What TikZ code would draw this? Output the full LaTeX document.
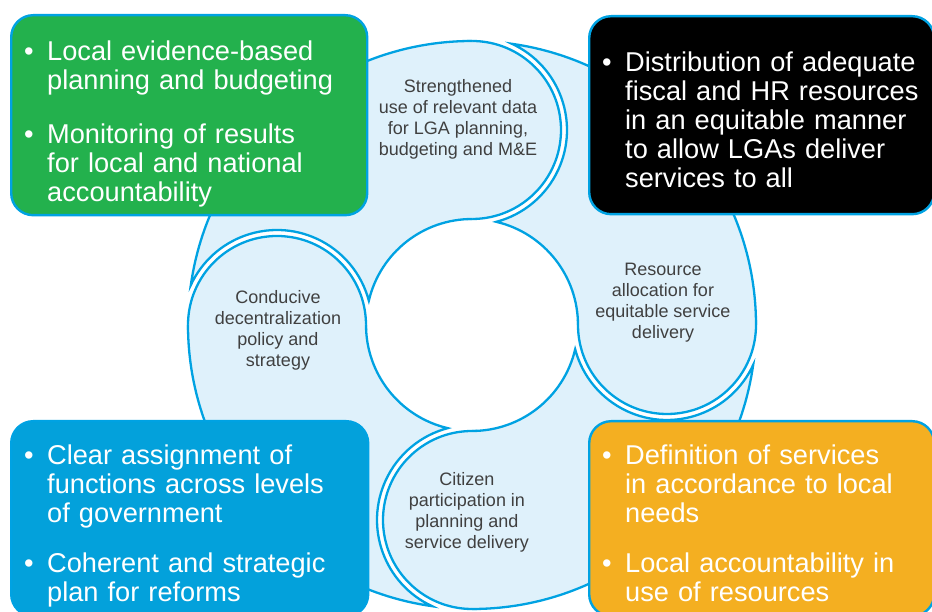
\documentclass[tikz,border=0pt]{standalone}
\usepackage{fontspec}
\setmainfont{Liberation Sans}
\usepackage{xcolor}
\usepackage{tikz}

\definecolor{ringblue}{RGB}{0,162,226}
\definecolor{ringfill}{RGB}{223,241,251}
\definecolor{boxgreen}{RGB}{35,177,77}
\definecolor{boxblue}{RGB}{3,161,219}
\definecolor{boxorange}{RGB}{244,175,33}
\definecolor{txtgray}{RGB}{64,64,64}

\newcommand{\bitem}[1]{\par\hyphenpenalty=10000\noindent\hangindent=23pt\hangafter=1\makebox[23pt][l]{\textbullet}#1\par}

\begin{document}
\begin{tikzpicture}[x=1pt, y=1pt,
    bubble/.style={fill=ringfill, draw=ringblue, line width=2.3pt},
    cycletext/.style={align=center, text=txtgray, inner sep=0pt,
        font=\fontsize{18}{21}\selectfont},
    cyclebox/.style={rounded corners=22pt, draw=ringblue, line width=2.4pt,
        text=white, anchor=north west, inner xsep=13pt, inner ysep=0pt,
        font=\fontsize{27.2}{29}\selectfont\raggedright}]
        \useasboundingbox (0,0) rectangle (932,612);
        \coordinate (O) at (472,287);

        % bubble, then the arrow leaving it
        \foreach \a in {90,180,270,360}{
            \filldraw[bubble] (O) ++(\a:195) circle[radius=89];
            \filldraw[bubble] (O) ++(\a:284)
                arc[start angle=\a, end angle=\a+81.91, radius=284]
                arc[start angle=\a+65.11, end angle=\a-75.16, radius=95]
                arc[start angle=\a+76.73, end angle=\a, radius=106];
        }

        \node[cyclebox, fill=boxgreen, minimum width=356pt, minimum height=200pt, text width=330pt] (plan) at (10,598)
            {\vspace*{8pt}\bitem{Local evidence-based\newline planning and budgeting}\vspace{25pt}%
             \bitem{Monitoring of results\newline for local and national\newline accountability}};
        \node[cyclebox, fill=black, minimum width=345pt, minimum height=198pt, text width=319pt] (fiscal) at (588,597)
            {\bitem{Distribution of adequate\newline fiscal and HR resources\newline in an equitable manner\newline to allow LGAs deliver\newline services to all}};
        \node[cyclebox, fill=boxblue, minimum width=357pt, minimum height=195pt, text width=331pt] (reform) at (10,192)
            {\vspace*{5pt}\bitem{Clear assignment of\newline functions across levels\newline of government}\vspace{21pt}%
             \bitem{Coherent and strategic\newline plan for reforms}};
        \node[cyclebox, fill=boxorange, minimum width=345pt, minimum height=195pt, text width=319pt] (service) at (588,192)
            {\bitem{Definition of services\newline in accordance to local\newline needs}\vspace{21pt}%
             \bitem{Local accountability in\newline use of resources}};

        \node[cycletext] (data) at (458,493) {Strengthened\\use of relevant data\\for LGA planning,\\budgeting and M\&E};
        \node[cycletext] (alloc) at (663,309) {Resource\\allocation for\\equitable service\\delivery};
        \node[cycletext] (citizen) at (467,100) {Citizen\\participation in\\planning and\\service delivery};
        \node[cycletext] (policy) at (278,282) {Conducive\\decentralization\\policy and\\strategy};
    \end{tikzpicture}
\end{document}
